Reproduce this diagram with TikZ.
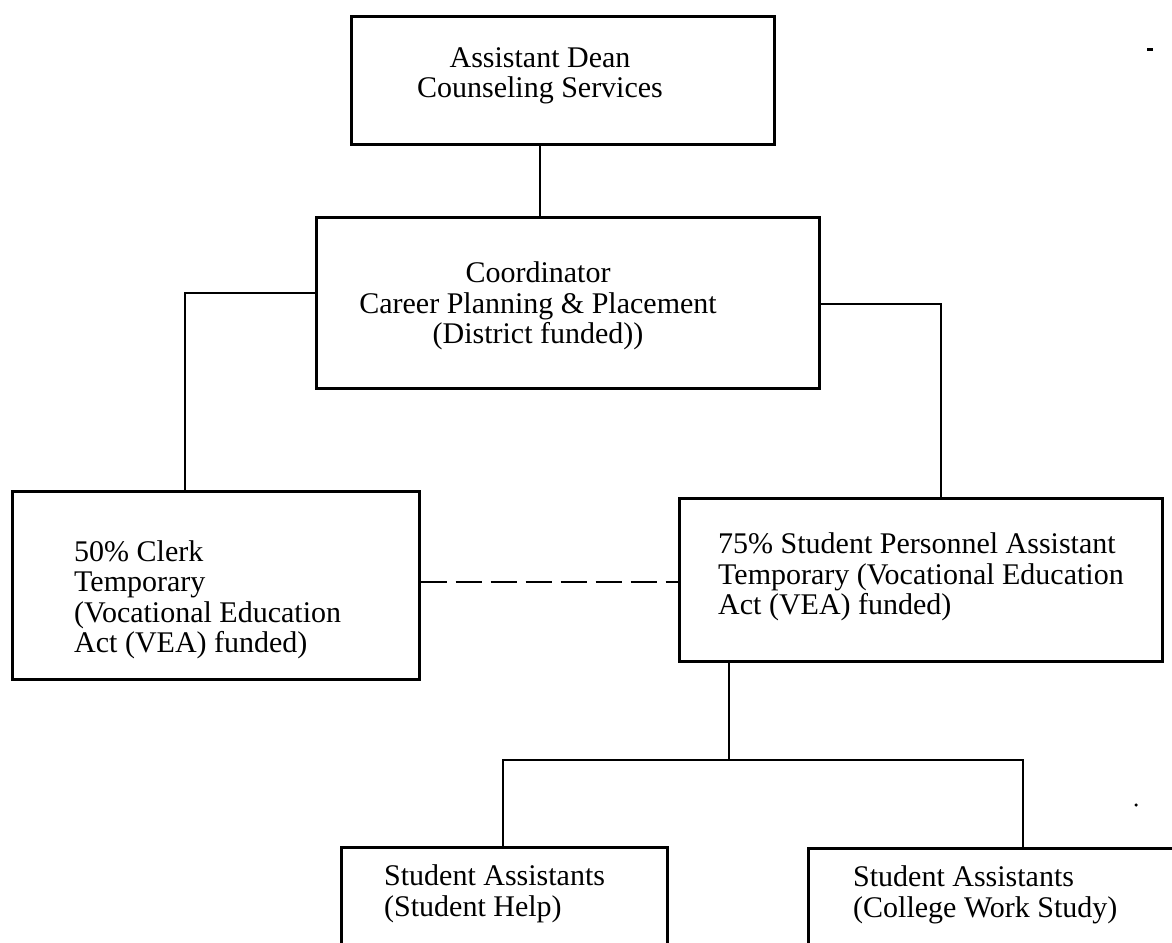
\documentclass[tikz,border=0pt]{standalone}
\usepackage{fontspec}
\setmainfont{Liberation Serif}
\begin{document}
\begin{tikzpicture}[x=1pt,y=-1pt,
  box/.style={draw,line width=2.6pt,inner sep=0pt,anchor=north west},
  lbl/.style={inner sep=0pt,font=\fontsize{30}{30.5}\selectfont},
  conn/.style={line width=2pt}]
\useasboundingbox[fill=white] (0,0) rectangle (1172,942);
\clip (0,0) rectangle (1172,942);
% boxes
\node[box,minimum width=423pt,minimum height=128pt] (b1) at (350,15) {};
\node[box,minimum width=503pt,minimum height=171pt] (b2) at (315,216) {};
\node[box,minimum width=407pt,minimum height=188pt] (b3) at (11,490) {};
\node[box,minimum width=483pt,minimum height=163pt] (b4) at (678,497) {};
\node[box,minimum width=326pt,minimum height=130pt] (b5) at (340,846) {};
\node[box,minimum width=420pt,minimum height=130pt] (b6) at (807,847) {};
% texts
\node[lbl,align=center] (t1) at (540,76) {Assistant Dean\\Counseling Services};
\node[lbl,align=center] (t2) at (538,306) {Coordinator\\Career Planning \& Placement\\(District funded))};
\node[lbl,align=left,anchor=west] (t3) at (74,600) {50\% Clerk\\Temporary\\(Vocational Education\\Act (VEA) funded)};
\node[lbl,align=left,anchor=west] (t4) at (718,577) {75\% Student Personnel Assistant\\Temporary (Vocational Education\\Act (VEA) funded)};
\node[lbl,align=left,anchor=west] (t5) at (384,894) {Student Assistants\\(Student Help)};
\node[lbl,align=left,anchor=west] (t6) at (853,895) {Student Assistants\\(College Work Study)};
% junction coordinates
\coordinate (c1) at (185,293);
\coordinate (c2) at (941,304);
\coordinate (d) at (418,582);
\coordinate (j) at (729,760);
\coordinate (c3) at (503,760);
\coordinate (c4) at (1023,760);
% connectors
\draw[conn] (b1.south -| t1) -- (b2.north -| t1);
\draw[conn] (b2.west |- c1) -- (c1) -- (c1 |- b3.north);
\draw[conn] (b2.east |- c2) -- (c2) -- (c2 |- b4.north);
\draw[conn,dash pattern=on 26pt off 9pt] (b3.east |- d) -- (b4.west |- d);
\draw[conn] (b4.south -| j) -- (j);
\draw[conn] (c3 |- b5.north) -- (c3) -- (c4) -- (c4 |- b6.north);
% scan marks
\node[fill,inner sep=0pt,minimum width=6pt,minimum height=3pt] (m1) at (1150,50) {};
\node[fill,circle,inner sep=0pt,minimum size=3.5pt] (m2) at (1136,805) {};
\end{tikzpicture}
\end{document}
